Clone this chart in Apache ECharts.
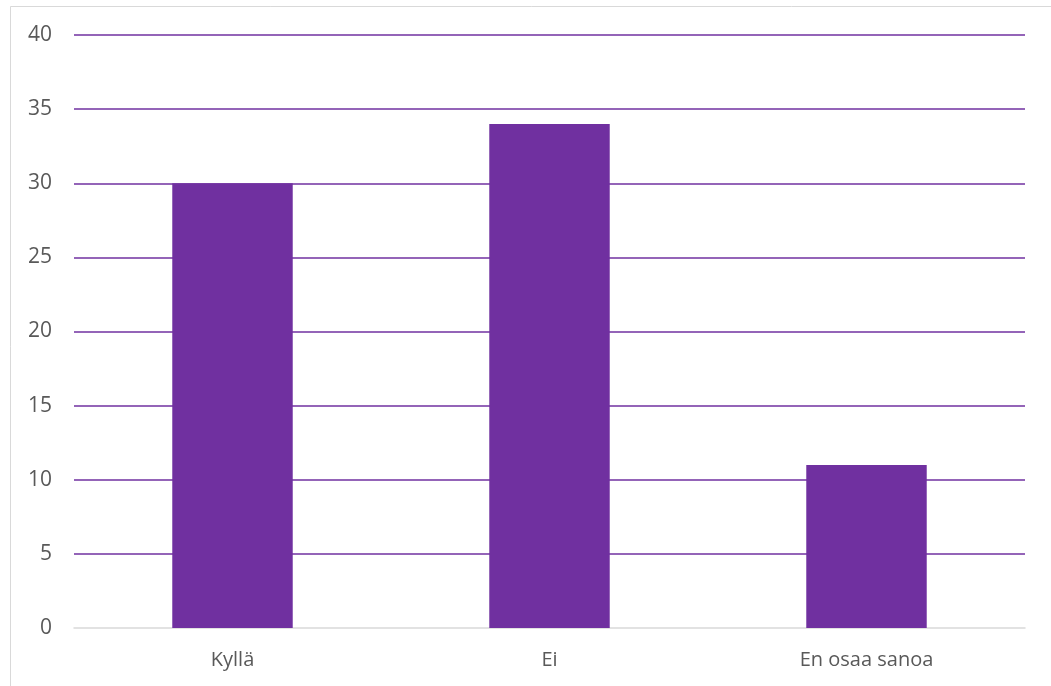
<!DOCTYPE html>
<html>
<head>
<meta charset="utf-8">
<script src="https://cdn.jsdelivr.net/npm/echarts@6/dist/echarts.min.js"></script>
<style>html,body{margin:0;padding:0;background:#fff}#c{width:1051px;height:686px}</style>
</head>
<body>
<div id="c"></div>
<script>
const categories = ['Kyllä', 'Ei', 'En osaa sanoa'];
const values = [30, 34, 11];
const yMin = 0, yMax = 40, yStep = 5;

const chart = echarts.init(document.getElementById('c'));
chart.setOption({
  animation: false,
  backgroundColor: '#fff',
  graphic: [{
    type: 'rect', shape: {x: 10.5, y: 6.5, width: 1100, height: 800},
    style: {fill: 'none', stroke: '#d9d9d9', lineWidth: 1}, silent: true, z: -1
  }],
  grid: {left: 74, right: 26, top: 35, bottom: 58, containLabel: false},
  xAxis: {
    type: 'category', data: categories,
    axisLine: {show: true, lineStyle: {color: '#d9d9d9', width: 1.5}},
    axisTick: {show: false},
    axisLabel: {color: '#595959', fontSize: 20, fontFamily: 'Open Sans', margin: 22}
  },
  yAxis: {
    type: 'value', min: yMin, max: yMax, interval: yStep,
    axisLine: {show: false}, axisTick: {show: false},
    axisLabel: {color: '#595959', fontSize: 21, fontFamily: 'Open Sans', margin: 22},
    splitLine: {showMinLine: false, lineStyle: {color: '#7030a0', width: 1.5}}
  },
  series: [{
    type: 'bar', data: values, barWidth: '38%',
    itemStyle: {color: '#7030a0'}
  }]
});
</script>
</body>
</html>
